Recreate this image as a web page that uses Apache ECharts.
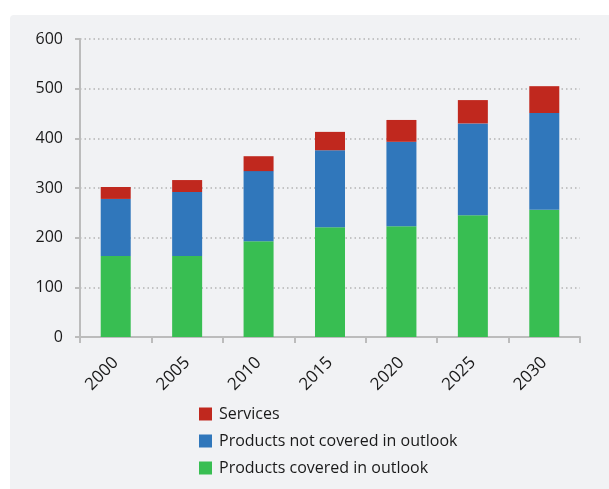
<!DOCTYPE html>
<html>
<head>
<meta charset="utf-8">
<script src="https://cdn.jsdelivr.net/npm/echarts@6/dist/echarts.min.js"></script>
<style>
html,body{margin:0;padding:0;background:#ffffff;}
#chart{width:609px;height:489px;}
</style>
</head>
<body>
<div id="chart"></div>
<script>
var categories = ['2000','2005','2010','2015','2020','2025','2030'];
var productsCovered = [163, 163, 193, 221, 223, 245, 256];
var productsNotCovered = [115, 129, 141, 155, 170, 185, 195];
var services = [24, 24, 30, 37, 44, 47, 54];
var yTicks = [0, 100, 200, 300, 400, 500, 600];

var chart = echarts.init(document.getElementById('chart'), null, {renderer: 'canvas'});
var font = '"Open Sans", "Noto Sans", sans-serif';
var option = {
  animation: false,
  backgroundColor: '#ffffff',
  graphic: [{
    type: 'rect', z: -10, silent: true,
    shape: {x: 10, y: 15, width: 620, height: 490, r: 4},
    style: {fill: '#f1f2f4'}
  }],
  grid: {left: 80, right: 29, top: 39, bottom: 152, containLabel: false},
  legend: {
    orient: 'vertical', left: 194, top: 401,
    itemWidth: 13, itemHeight: 13, itemGap: 11,
    icon: 'rect',
    textStyle: {fontFamily: font, fontSize: 16, color: '#1a1a1a', padding: [0,0,0,2]},
    data: ['Services', 'Products not covered in outlook', 'Products covered in outlook']
  },
  xAxis: {
    type: 'category', data: categories,
    axisLine: {lineStyle: {color: '#bcbcbc', width: 2}},
    axisTick: {show: true, length: 6, lineStyle: {color: '#bcbcbc', width: 2}},
    axisLabel: {rotate: 45, fontFamily: font, fontSize: 17, color: '#1a1a1a', margin: 23}
  },
  yAxis: {
    type: 'value', min: yTicks[0], max: yTicks[yTicks.length-1], interval: 100,
    axisLine: {show: true, lineStyle: {color: '#bcbcbc', width: 2}},
    axisTick: {show: true, length: 5, lineStyle: {color: '#bcbcbc', width: 2}},
    axisLabel: {fontFamily: font, fontSize: 16, color: '#1a1a1a', margin: 17},
    splitLine: {show: true, lineStyle: {color: '#b4b4b4', width: 1.5, type: [1.5, 3]}}
  },
  series: [
    {name: 'Products covered in outlook', type: 'bar', stack: 's', barWidth: 30,
     itemStyle: {color: '#38be52'}, data: productsCovered},
    {name: 'Products not covered in outlook', type: 'bar', stack: 's', barWidth: 30,
     itemStyle: {color: '#3077bb'}, data: productsNotCovered},
    {name: 'Services', type: 'bar', stack: 's', barWidth: 30,
     itemStyle: {color: '#c0281e'}, data: services}
  ]
};
chart.setOption(option);
</script>
</body>
</html>
